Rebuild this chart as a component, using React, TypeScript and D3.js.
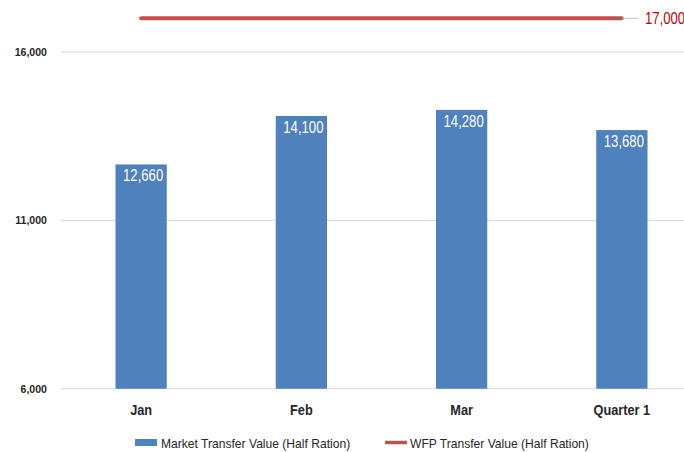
import React from 'react';
import { scaleBand, scaleLinear, format } from 'd3';

const categories = ['Jan', 'Feb', 'Mar', 'Quarter 1'];
const marketValues = [12660, 14100, 14280, 13680];
const wfpValue = 17000;
const yTicks = [6000, 11000, 16000];
const legendLabels = ['Market Transfer Value (Half Ration)', 'WFP Transfer Value (Half Ration)'];

const W = 684;
const H = 452;
const FONT = "'Liberation Sans', Arial, sans-serif";

// narrow text: the reference uses a condensed face, so squeeze horizontally
const Narrow = ({ x, y, sx = 0.87, anchor = 'start', children, ...rest }: any) => (
  <g transform={`translate(${x},${y}) scale(${sx},1)`}>
    <text textAnchor={anchor} {...rest}>
      {children}
    </text>
  </g>
);

const App = () => {
  const x = scaleBand<string>()
    .domain(categories)
    .range([61, 702])
    .paddingInner(0.68)
    .paddingOuter(0.34);
  const y = scaleLinear().domain([6000, 17000]).range([388.7, 18.3]);
  const fmt = format(',');

  const first = x(categories[0])! + x.bandwidth() / 2;
  const last = x(categories[categories.length - 1])! + x.bandwidth() / 2;

  return (
    <svg width={W} height={H} style={{ position: 'absolute', left: 0, top: 0 }} fontFamily={FONT}>
      <rect width={W} height={H} fill="#fff" />
      {/* grid + y labels */}
      {yTicks.map((t) => (
        <g key={t}>
          <line x1={61} x2={W} y1={y(t)} y2={y(t)} stroke="#d9d9d9" strokeWidth={1} />
          <Narrow x={47} y={y(t) + 4} sx={0.92} anchor="end" fontSize={11.5} fontWeight="bold" fill="#262626">
            {fmt(t)}
          </Narrow>
        </g>
      ))}

      {/* bars */}
      {categories.map((c, i) => (
        <g key={c}>
          <rect
            x={x(c)}
            y={y(marketValues[i])}
            width={x.bandwidth()}
            height={y(6000) - y(marketValues[i])}
            fill="#4f81bd"
          />
          <Narrow
            x={x(c)! + x.bandwidth() / 2 + 2}
            y={y(marketValues[i]) + 17}
            sx={0.82}
            anchor="middle"
            fontSize={16}
            fill="#fff"
          >
            {fmt(marketValues[i])}
          </Narrow>
          <Narrow x={x(c)! + x.bandwidth() / 2} y={415} sx={0.88} anchor="middle" fontSize={14.5} fontWeight="bold" fill="#262626">
            {c}
          </Narrow>
        </g>
      ))}

      {/* WFP line */}
      <line x1={first} x2={last} y1={y(wfpValue)} y2={y(wfpValue)} stroke="#c0504d" strokeWidth={4} strokeLinecap="round" />
      <line x1={last} x2={638} y1={y(wfpValue)} y2={y(wfpValue)} stroke="#bfbfbf" strokeWidth={1} />
      <Narrow x={645} y={y(wfpValue) + 5.5} sx={0.82} fontSize={16} fill="#c00000">
        {fmt(wfpValue)}
      </Narrow>

      {/* legend */}
      <g>
        <rect x={135} y={439} width={22} height={7} fill="#4f81bd" />
        <Narrow x={161} y={447.5} sx={0.93} fontSize={13} fill="#262626">
          {legendLabels[0]}
        </Narrow>
        <line x1={385} x2={407} y1={442.5} y2={442.5} stroke="#c0504d" strokeWidth={3.5} />
        <Narrow x={410} y={447.5} sx={0.93} fontSize={13} fill="#262626">
          {legendLabels[1]}
        </Narrow>
      </g>
    </svg>
  );
};

export default App;
